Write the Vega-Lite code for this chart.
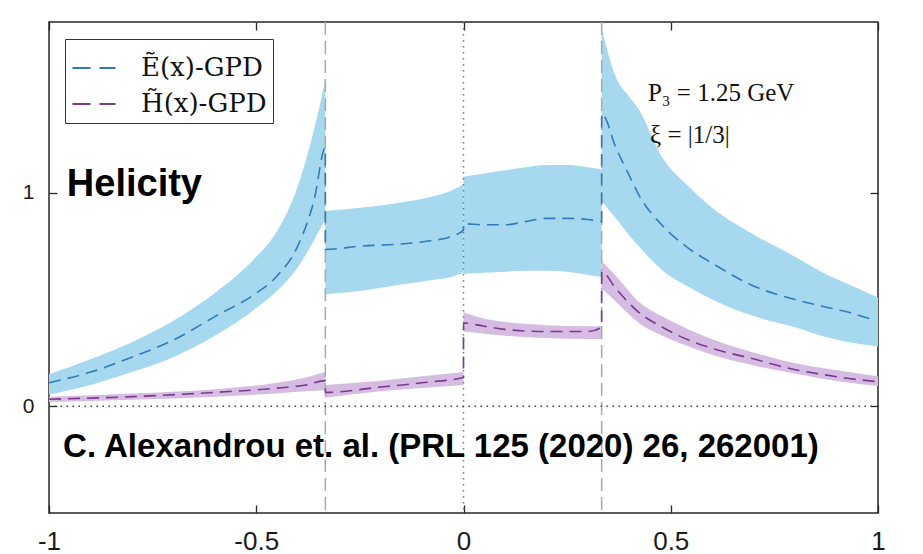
{
  "$schema": "https://vega.github.io/schema/vega-lite/v6.json",
  "width": 829,
  "height": 491,
  "autosize": "none",
  "padding": {"left": 49, "top": 22, "right": 45, "bottom": 41},
  "background": "white",
  "config": {
    "view": {"stroke": "#262626", "strokeWidth": 1.5},
    "axis": {"domain": false, "grid": false, "tickColor": "#262626", "tickWidth": 1.3, "labelFont": "Liberation Sans", "labelColor": "#1a1a1a", "title": null}
  },
  "datasets": {
    "bands": [
      {"s": "E", "seg": 1, "x": -1, "lo": 0.055, "hi": 0.15},
      {"s": "E", "seg": 1, "x": -0.9, "lo": 0.1, "hi": 0.22},
      {"s": "E", "seg": 1, "x": -0.8, "lo": 0.16, "hi": 0.3},
      {"s": "E", "seg": 1, "x": -0.7, "lo": 0.23, "hi": 0.4},
      {"s": "E", "seg": 1, "x": -0.6, "lo": 0.33, "hi": 0.53},
      {"s": "E", "seg": 1, "x": -0.5, "lo": 0.46, "hi": 0.7},
      {"s": "E", "seg": 1, "x": -0.45, "lo": 0.54, "hi": 0.82},
      {"s": "E", "seg": 1, "x": -0.4, "lo": 0.65, "hi": 1.03},
      {"s": "E", "seg": 1, "x": -0.36, "lo": 0.78, "hi": 1.3},
      {"s": "E", "seg": 1, "x": -0.3333, "lo": 0.88, "hi": 1.53},
      {"s": "E", "seg": 2, "x": -0.3333, "lo": 0.525, "hi": 0.915},
      {"s": "E", "seg": 2, "x": -0.25, "lo": 0.54, "hi": 0.93},
      {"s": "E", "seg": 2, "x": -0.15, "lo": 0.57, "hi": 0.955},
      {"s": "E", "seg": 2, "x": -0.08, "lo": 0.59, "hi": 0.98},
      {"s": "E", "seg": 2, "x": -0.03, "lo": 0.605, "hi": 1.01},
      {"s": "E", "seg": 2, "x": 0, "lo": 0.625, "hi": 1.04},
      {"s": "E", "seg": 3, "x": 0, "lo": 0.62, "hi": 1.075},
      {"s": "E", "seg": 3, "x": 0.05, "lo": 0.625, "hi": 1.09},
      {"s": "E", "seg": 3, "x": 0.1, "lo": 0.63, "hi": 1.105},
      {"s": "E", "seg": 3, "x": 0.15, "lo": 0.635, "hi": 1.12},
      {"s": "E", "seg": 3, "x": 0.2, "lo": 0.635, "hi": 1.13},
      {"s": "E", "seg": 3, "x": 0.25, "lo": 0.63, "hi": 1.13},
      {"s": "E", "seg": 3, "x": 0.3, "lo": 0.615, "hi": 1.12},
      {"s": "E", "seg": 3, "x": 0.3333, "lo": 0.605, "hi": 1.11},
      {"s": "E", "seg": 4, "x": 0.3333, "lo": 0.96, "hi": 1.77},
      {"s": "E", "seg": 4, "x": 0.368, "lo": 0.88, "hi": 1.54},
      {"s": "E", "seg": 4, "x": 0.4, "lo": 0.8, "hi": 1.45},
      {"s": "E", "seg": 4, "x": 0.423, "lo": 0.75, "hi": 1.39},
      {"s": "E", "seg": 4, "x": 0.478, "lo": 0.64, "hi": 1.17},
      {"s": "E", "seg": 4, "x": 0.543, "lo": 0.56, "hi": 1.03},
      {"s": "E", "seg": 4, "x": 0.6, "lo": 0.5, "hi": 0.93},
      {"s": "E", "seg": 4, "x": 0.704, "lo": 0.42, "hi": 0.8},
      {"s": "E", "seg": 4, "x": 0.8, "lo": 0.37, "hi": 0.7},
      {"s": "E", "seg": 4, "x": 0.863, "lo": 0.33, "hi": 0.63},
      {"s": "E", "seg": 4, "x": 0.93, "lo": 0.3, "hi": 0.57},
      {"s": "E", "seg": 4, "x": 1, "lo": 0.28, "hi": 0.51},
      {"s": "H", "seg": 5, "x": -1, "lo": 0.02, "hi": 0.045},
      {"s": "H", "seg": 5, "x": -0.8, "lo": 0.03, "hi": 0.06},
      {"s": "H", "seg": 5, "x": -0.6, "lo": 0.045, "hi": 0.08},
      {"s": "H", "seg": 5, "x": -0.45, "lo": 0.06, "hi": 0.11},
      {"s": "H", "seg": 5, "x": -0.38, "lo": 0.07, "hi": 0.135},
      {"s": "H", "seg": 5, "x": -0.3333, "lo": 0.075, "hi": 0.16},
      {"s": "H", "seg": 6, "x": -0.3333, "lo": 0.04, "hi": 0.1},
      {"s": "H", "seg": 6, "x": -0.2, "lo": 0.07, "hi": 0.12},
      {"s": "H", "seg": 6, "x": -0.1, "lo": 0.085, "hi": 0.14},
      {"s": "H", "seg": 6, "x": 0, "lo": 0.1, "hi": 0.16},
      {"s": "H", "seg": 7, "x": 0, "lo": 0.35, "hi": 0.44},
      {"s": "H", "seg": 7, "x": 0.05, "lo": 0.34, "hi": 0.41},
      {"s": "H", "seg": 7, "x": 0.1, "lo": 0.33, "hi": 0.395},
      {"s": "H", "seg": 7, "x": 0.2, "lo": 0.32, "hi": 0.38},
      {"s": "H", "seg": 7, "x": 0.3, "lo": 0.315, "hi": 0.375},
      {"s": "H", "seg": 7, "x": 0.3333, "lo": 0.315, "hi": 0.375},
      {"s": "H", "seg": 8, "x": 0.3333, "lo": 0.55, "hi": 0.68},
      {"s": "H", "seg": 8, "x": 0.368, "lo": 0.49, "hi": 0.61},
      {"s": "H", "seg": 8, "x": 0.423, "lo": 0.39, "hi": 0.49},
      {"s": "H", "seg": 8, "x": 0.48, "lo": 0.33, "hi": 0.42},
      {"s": "H", "seg": 8, "x": 0.543, "lo": 0.28, "hi": 0.36},
      {"s": "H", "seg": 8, "x": 0.62, "lo": 0.23, "hi": 0.3},
      {"s": "H", "seg": 8, "x": 0.704, "lo": 0.19, "hi": 0.25},
      {"s": "H", "seg": 8, "x": 0.78, "lo": 0.16, "hi": 0.21},
      {"s": "H", "seg": 8, "x": 0.863, "lo": 0.13, "hi": 0.18},
      {"s": "H", "seg": 8, "x": 0.93, "lo": 0.11, "hi": 0.16},
      {"s": "H", "seg": 8, "x": 1, "lo": 0.095, "hi": 0.14}
    ],
    "lines": [
      {"s": "Ẽ(x)-GPD", "i": 1, "x": -1, "y": 0.11},
      {"s": "Ẽ(x)-GPD", "i": 2, "x": -0.9, "y": 0.16},
      {"s": "Ẽ(x)-GPD", "i": 3, "x": -0.8, "y": 0.23},
      {"s": "Ẽ(x)-GPD", "i": 4, "x": -0.7, "y": 0.31},
      {"s": "Ẽ(x)-GPD", "i": 5, "x": -0.6, "y": 0.42},
      {"s": "Ẽ(x)-GPD", "i": 6, "x": -0.5, "y": 0.53},
      {"s": "Ẽ(x)-GPD", "i": 7, "x": -0.45, "y": 0.61},
      {"s": "Ẽ(x)-GPD", "i": 8, "x": -0.4, "y": 0.75},
      {"s": "Ẽ(x)-GPD", "i": 9, "x": -0.36, "y": 0.97},
      {"s": "Ẽ(x)-GPD", "i": 10, "x": -0.3334, "y": 1.21},
      {"s": "Ẽ(x)-GPD", "i": 11, "x": -0.3332, "y": 0.735},
      {"s": "Ẽ(x)-GPD", "i": 12, "x": -0.25, "y": 0.75},
      {"s": "Ẽ(x)-GPD", "i": 13, "x": -0.15, "y": 0.76},
      {"s": "Ẽ(x)-GPD", "i": 14, "x": -0.08, "y": 0.775},
      {"s": "Ẽ(x)-GPD", "i": 15, "x": -0.03, "y": 0.795},
      {"s": "Ẽ(x)-GPD", "i": 16, "x": -0.0001, "y": 0.825},
      {"s": "Ẽ(x)-GPD", "i": 17, "x": 0.0001, "y": 0.855},
      {"s": "Ẽ(x)-GPD", "i": 18, "x": 0.05, "y": 0.85},
      {"s": "Ẽ(x)-GPD", "i": 19, "x": 0.1, "y": 0.85},
      {"s": "Ẽ(x)-GPD", "i": 20, "x": 0.15, "y": 0.865},
      {"s": "Ẽ(x)-GPD", "i": 21, "x": 0.2, "y": 0.88},
      {"s": "Ẽ(x)-GPD", "i": 22, "x": 0.25, "y": 0.88},
      {"s": "Ẽ(x)-GPD", "i": 23, "x": 0.3, "y": 0.875},
      {"s": "Ẽ(x)-GPD", "i": 24, "x": 0.3332, "y": 0.865},
      {"s": "Ẽ(x)-GPD", "i": 25, "x": 0.3334, "y": 1.37},
      {"s": "Ẽ(x)-GPD", "i": 26, "x": 0.368, "y": 1.21},
      {"s": "Ẽ(x)-GPD", "i": 27, "x": 0.4, "y": 1.08},
      {"s": "Ẽ(x)-GPD", "i": 28, "x": 0.423, "y": 0.99},
      {"s": "Ẽ(x)-GPD", "i": 29, "x": 0.478, "y": 0.85},
      {"s": "Ẽ(x)-GPD", "i": 30, "x": 0.543, "y": 0.74},
      {"s": "Ẽ(x)-GPD", "i": 31, "x": 0.6, "y": 0.67},
      {"s": "Ẽ(x)-GPD", "i": 32, "x": 0.704, "y": 0.56},
      {"s": "Ẽ(x)-GPD", "i": 33, "x": 0.8, "y": 0.5},
      {"s": "Ẽ(x)-GPD", "i": 34, "x": 0.863, "y": 0.47},
      {"s": "Ẽ(x)-GPD", "i": 35, "x": 0.93, "y": 0.44},
      {"s": "Ẽ(x)-GPD", "i": 36, "x": 0.98, "y": 0.41},
      {"s": "H̃(x)-GPD", "i": 1, "x": -1, "y": 0.033},
      {"s": "H̃(x)-GPD", "i": 2, "x": -0.8, "y": 0.045},
      {"s": "H̃(x)-GPD", "i": 3, "x": -0.6, "y": 0.065},
      {"s": "H̃(x)-GPD", "i": 4, "x": -0.45, "y": 0.085},
      {"s": "H̃(x)-GPD", "i": 5, "x": -0.38, "y": 0.1},
      {"s": "H̃(x)-GPD", "i": 6, "x": -0.3334, "y": 0.12},
      {"s": "H̃(x)-GPD", "i": 7, "x": -0.3332, "y": 0.065},
      {"s": "H̃(x)-GPD", "i": 8, "x": -0.2, "y": 0.09},
      {"s": "H̃(x)-GPD", "i": 9, "x": -0.1, "y": 0.11},
      {"s": "H̃(x)-GPD", "i": 10, "x": -0.0001, "y": 0.135},
      {"s": "H̃(x)-GPD", "i": 11, "x": 0.0001, "y": 0.39},
      {"s": "H̃(x)-GPD", "i": 12, "x": 0.05, "y": 0.375},
      {"s": "H̃(x)-GPD", "i": 13, "x": 0.1, "y": 0.36},
      {"s": "H̃(x)-GPD", "i": 14, "x": 0.2, "y": 0.35},
      {"s": "H̃(x)-GPD", "i": 15, "x": 0.3, "y": 0.35},
      {"s": "H̃(x)-GPD", "i": 16, "x": 0.3332, "y": 0.37},
      {"s": "H̃(x)-GPD", "i": 17, "x": 0.3334, "y": 0.63},
      {"s": "H̃(x)-GPD", "i": 18, "x": 0.368, "y": 0.55},
      {"s": "H̃(x)-GPD", "i": 19, "x": 0.423, "y": 0.44},
      {"s": "H̃(x)-GPD", "i": 20, "x": 0.48, "y": 0.37},
      {"s": "H̃(x)-GPD", "i": 21, "x": 0.543, "y": 0.31},
      {"s": "H̃(x)-GPD", "i": 22, "x": 0.62, "y": 0.26},
      {"s": "H̃(x)-GPD", "i": 23, "x": 0.704, "y": 0.22},
      {"s": "H̃(x)-GPD", "i": 24, "x": 0.78, "y": 0.18},
      {"s": "H̃(x)-GPD", "i": 25, "x": 0.863, "y": 0.15},
      {"s": "H̃(x)-GPD", "i": 26, "x": 0.93, "y": 0.13},
      {"s": "H̃(x)-GPD", "i": 27, "x": 1, "y": 0.115}
    ]
  },
  "layer": [
    {
      "data": {"name": "bands"},
      "mark": {"type": "area", "interpolate": "monotone", "strokeWidth": 0},
      "encoding": {
        "x": {"field": "x", "type": "quantitative", "scale": {"domain": [-1, 1], "nice": false, "zero": false},
              "axis": {"orient": "bottom", "values": [-1, -0.5, 0, 0.5, 1], "ticks": false, "labelBaseline": "alphabetic", "labelPadding": 36, "labelFontSize": 26, "labelFlush": false, "labelExpr": "'' + datum.value"}},
        "y": {"field": "lo", "type": "quantitative", "scale": {"domain": [-0.5, 1.8], "nice": false, "zero": false},
              "axis": {"orient": "left", "values": [0, 1], "ticks": false, "labelPadding": 15, "labelFontSize": 21, "labelExpr": "'' + datum.value"}},
        "y2": {"field": "hi"},
        "detail": {"field": "seg", "type": "nominal"},
        "fill": {"field": "s", "type": "nominal", "scale": {"domain": ["E", "H"], "range": ["#a6d8f0", "#d6bce2"]}, "legend": null}
      }
    },
    {
      "data": {"values": [{"x": -0.3333}, {"x": 0.3333}]},
      "mark": {"type": "rule", "color": "#a8a8a8", "strokeWidth": 1.5, "strokeDash": [13, 6]},
      "encoding": {
        "x": {"field": "x", "type": "quantitative", "axis": {"orient": "top", "values": [-1, -0.5, 0, 0.5, 1], "tickSize": 8, "offset": -8, "labels": false}}
      }
    },
    {
      "data": {"values": [{"x": 0}]},
      "mark": {"type": "rule", "color": "#7a7a7a", "strokeWidth": 1.5, "strokeDash": [1.5, 4.5]},
      "encoding": {
        "x": {"field": "x", "type": "quantitative", "axis": {"orient": "bottom", "values": [-1, -0.5, 0, 0.5, 1], "tickSize": 8, "offset": -8, "labels": false}}
      }
    },
    {
      "data": {"values": [{"y": 0}]},
      "mark": {"type": "rule", "color": "#444444", "strokeWidth": 1.3, "strokeDash": [1.5, 4.5]},
      "encoding": {
        "y": {"field": "y", "type": "quantitative", "axis": {"orient": "right", "values": [0, 1], "tickSize": 8, "offset": -8, "labels": false}}
      }
    },
    {
      "data": {"name": "lines"},
      "mark": {"type": "line", "interpolate": "monotone", "strokeWidth": 1.6, "strokeDash": [12, 7]},
      "encoding": {
        "x": {"field": "x", "type": "quantitative", "axis": null},
        "y": {"field": "y", "type": "quantitative", "axis": {"orient": "left", "values": [0, 1], "tickSize": 8, "offset": -8, "labels": false}},
        "order": {"field": "i", "type": "quantitative"},
        "stroke": {"field": "s", "type": "nominal", "scale": {"domain": ["Ẽ(x)-GPD", "H̃(x)-GPD"], "range": ["#2f7cb8", "#7b3a8f"]},
                   "legend": {"title": null, "orient": "none", "legendX": 16, "legendY": 17, "symbolType": "stroke", "symbolDash": [18, 9], "symbolStrokeWidth": 2, "symbolSize": 1850, "labelFont": "DejaVu Serif", "labelFontSize": 26, "labelColor": "#111", "strokeColor": "#333333", "fillColor": "white", "padding": 6, "rowPadding": 0, "labelOffset": 24}}
      }
    },
    {
      "data": {"values": [{"x": -0.957, "y": 0.986, "t": "Helicity", "f": 38}, {"x": -0.966, "y": -0.24, "t": "C. Alexandrou et. al. (PRL 125 (2020) 26, 262001)", "f": 33}]},
      "mark": {"type": "text", "align": "left", "baseline": "alphabetic", "font": "Liberation Sans", "fontWeight": "bold", "color": "black"},
      "encoding": {
        "x": {"field": "x", "type": "quantitative", "axis": null},
        "y": {"field": "y", "type": "quantitative", "axis": null},
        "text": {"field": "t"},
        "size": {"field": "f", "type": "quantitative", "scale": null}
      }
    },
    {
      "data": {"values": [{"x": 0.445, "y": 1.432, "t": "P₃ = 1.25 GeV"}, {"x": 0.45, "y": 1.235, "t": "ξ = |1/3|"}]},
      "mark": {"type": "text", "align": "left", "baseline": "alphabetic", "font": "Liberation Serif", "fontSize": 25, "color": "#111"},
      "encoding": {
        "x": {"field": "x", "type": "quantitative", "axis": null},
        "y": {"field": "y", "type": "quantitative", "axis": null},
        "text": {"field": "t"}
      }
    }
  ],
  "resolve": {"axis": {"x": "independent", "y": "independent"}}
}
